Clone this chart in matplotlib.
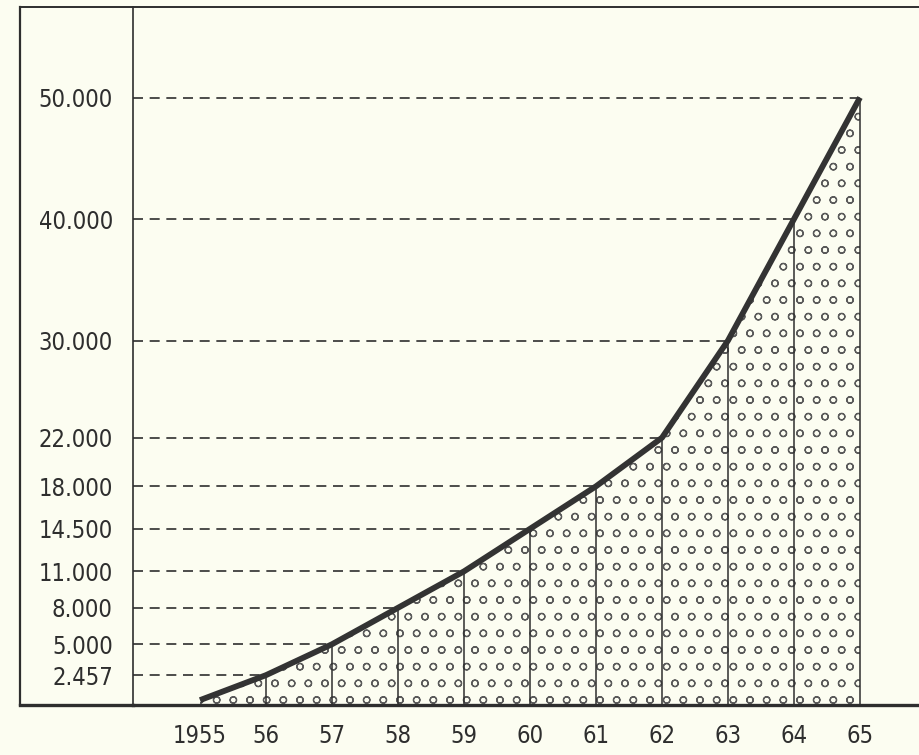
import matplotlib
matplotlib.use("Agg")
from matplotlib import pyplot as plt
from matplotlib import font_manager
from matplotlib.lines import Line2D

years = [1955, 1956, 1957, 1958, 1959, 1960, 1961, 1962, 1963, 1964, 1965]
year_labels = ["1955", "56", "57", "58", "59", "60", "61", "62", "63", "64", "65"]
values = [400, 2457, 5000, 8000, 11000, 14500, 18000, 22000, 30000, 40000, 50000]
y_ticks = [2457, 5000, 8000, 11000, 14500, 18000, 22000, 30000, 40000, 50000]
y_labels = ["2.457", "5.000", "8.000", "11.000", "14.500", "18.000",
            "22.000", "30.000", "40.000", "50.000"]

bg = "#fcfdf1"
ink = "#2e2e2e"

# the scan uses a condensed grotesque: take a regular-weight condensed face
narrow = None
for f in font_manager.fontManager.ttflist:
    if f.stretch == "condensed" and f.weight in (400, "normal") and f.style == "normal":
        narrow = f
        break

if narrow is not None:
    fp = font_manager.FontProperties(fname=narrow.fname, size=17)
else:
    fp = font_manager.FontProperties(family="Roboto", weight="light", size=17)

plt.rcParams["hatch.linewidth"] = 0.9

W, H = 919, 755
fig = plt.figure(figsize=(W / 100, H / 100), dpi=100, facecolor=bg)

ax = fig.add_axes([133 / W, (H - 705) / H, (W - 133) / W, (705 - 7) / H])
ax.set_facecolor(bg)
ax.set_xlim(1955 - 67 / 66, 1965 + 59 / 66)
ax.set_ylim(0, 57450)

ax.fill_between(years, 0, values, facecolor="none", edgecolor="#5a5a5a",
                hatch="o", linewidth=0)

ax.vlines(years[1:], 0, values[1:], color=ink, linewidth=1.1)

for x, v in zip(years[1:], values[1:]):
    ax.plot([ax.get_xlim()[0], x], [v, v], color=ink, linewidth=1.2,
            dashes=(6, 4))

ax.plot(years, values, color="#333333", linewidth=4.2, solid_capstyle="butt",
        zorder=5)

ax.set_yticks(y_ticks)
ax.set_yticklabels(y_labels, fontproperties=fp, color=ink)
ax.set_xticks(years)
ax.set_xticklabels(year_labels, fontproperties=fp, color=ink)
ax.tick_params(axis="y", length=0, pad=14.5)
ax.tick_params(axis="x", length=0, pad=14)

ax.spines["right"].set_visible(False)
ax.spines["left"].set_linewidth(1.2)
ax.spines["left"].set_color(ink)
ax.spines["top"].set_linewidth(1.4)
ax.spines["top"].set_color(ink)
ax.spines["bottom"].set_linewidth(2.4)
ax.spines["bottom"].set_color(ink)

fig.add_artist(Line2D([20 / W, 20 / W], [(H - 705) / H, (H - 7) / H],
                      color=ink, linewidth=1.6))
fig.add_artist(Line2D([20 / W, 133 / W], [(H - 7) / H, (H - 7) / H],
                      color=ink, linewidth=1.4))
fig.add_artist(Line2D([20 / W, 133 / W], [(H - 705) / H, (H - 705) / H],
                      color=ink, linewidth=2.4))

fig.savefig("out.png", dpi=100, facecolor=bg)
